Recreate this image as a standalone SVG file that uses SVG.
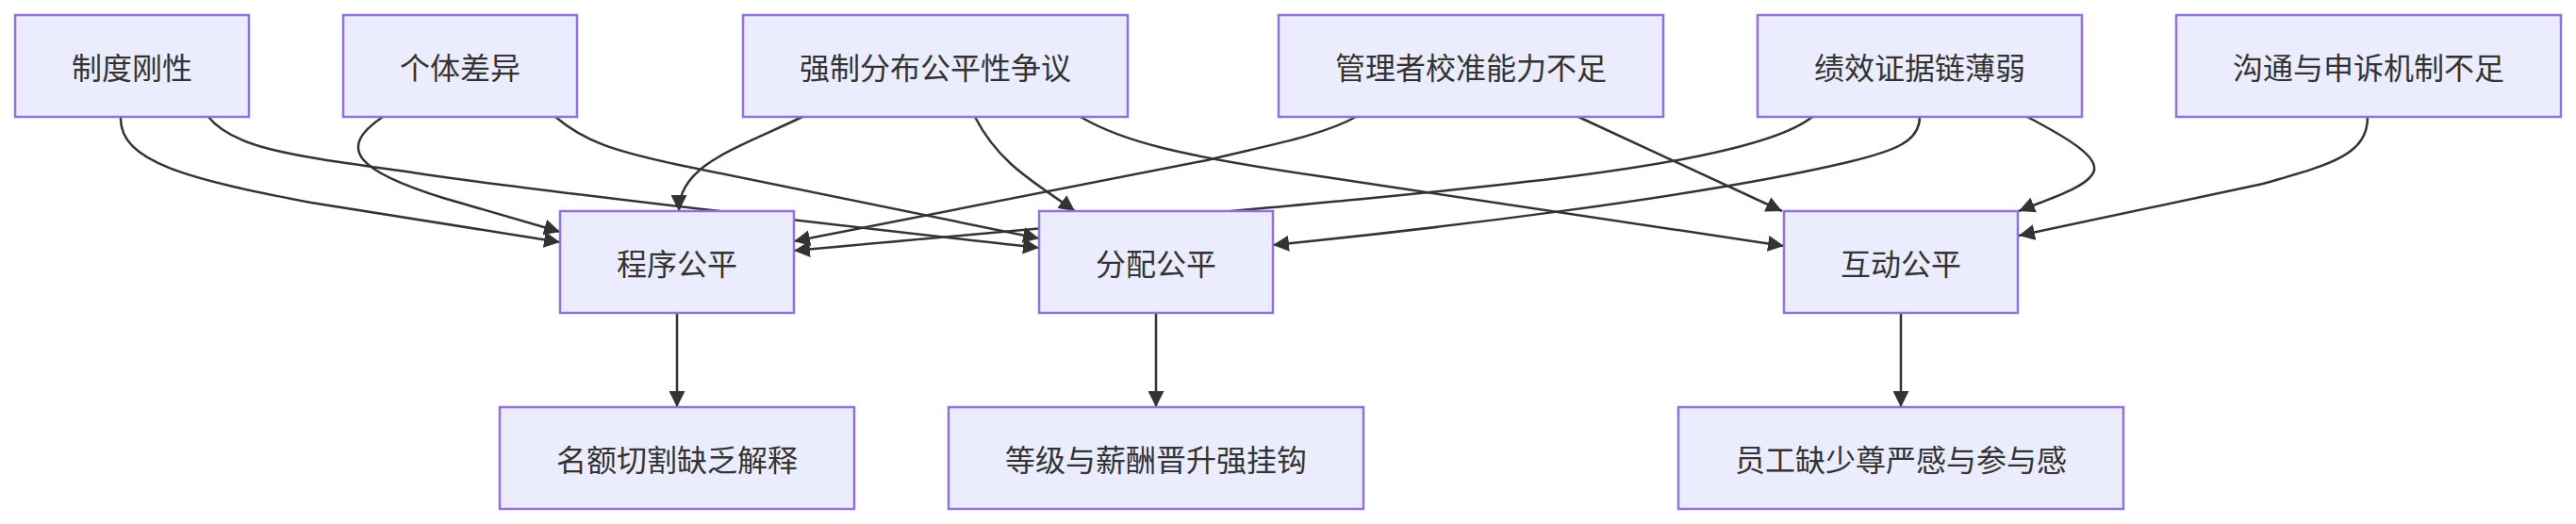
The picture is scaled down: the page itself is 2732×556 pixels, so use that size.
<svg xmlns="http://www.w3.org/2000/svg" width="2732" height="556" viewBox="0 0 2732 556">
<style>
.node rect{fill:#ECECFF;stroke:#9370DB;stroke-width:2.5}
.node text{font-family:"Noto Sans CJK SC","Liberation Sans",sans-serif;font-size:32px;fill:#333;text-anchor:middle;dominant-baseline:central}
.edge{fill:none;stroke:#333;stroke-width:2.5;marker-end:url(#arrow)}
</style>
<defs>
<marker id="arrow" viewBox="0 0 10 10" refX="10" refY="5" markerUnits="userSpaceOnUse" markerWidth="17" markerHeight="17" orient="auto">
<path d="M0,0 L10,5 L0,10 z" fill="#333"/>
</marker>
</defs>
<rect width="2732" height="556" fill="#fff"/>
<g id="connectors">
<path class="edge" d="M128,124 C126,172 200,190 330,215 L594,257"/>
<path class="edge" d="M221,124 C250,160 320,166 450,185 S900,240 1102,263"/>
<path class="edge" d="M406,124 C355,158 380,182 470,210 L594,246"/>
<path class="edge" d="M589,124 C620,150 650,160 720,175 L1102,253"/>
<path class="edge" d="M851,124 C780,158 720,175 720,224"/>
<path class="edge" d="M1034,124 C1060,175 1100,195 1140,224"/>
<path class="edge" d="M1146,124 C1190,150 1250,165 1400,187 L1892,261"/>
<path class="edge" d="M1438,124 C1400,145 1340,155 1280,170 L842,256"/>
<path class="edge" d="M1674,124 L1890,224"/>
<path class="edge" d="M1922,124 C1890,150 1800,170 1668,187 C1500,208 1300,224 842,266"/>
<path class="edge" d="M2036,124 C2036,150 2010,160 1960,172 C1800,210 1500,245 1350,260"/>
<path class="edge" d="M2150,124 C2200,150 2230,170 2219,185 C2210,200 2170,212 2141,224"/>
<path class="edge" d="M2511,124 C2511,165 2470,175 2400,195 L2141,250"/>
<path class="edge" d="M718,332 L718,432"/>
<path class="edge" d="M1226,332 L1226,432"/>
<path class="edge" d="M2016,332 L2016,432"/>
</g>
<g id="n-zhidu" class="node"><rect x="16" y="16" width="248" height="108"/><text x="140" y="70">制度刚性</text></g>
<g id="n-geti" class="node"><rect x="364" y="16" width="248" height="108"/><text x="488" y="70">个体差异</text></g>
<g id="n-qiangzhi" class="node"><rect x="788" y="16" width="408" height="108"/><text x="992" y="70">强制分布公平性争议</text></g>
<g id="n-guanli" class="node"><rect x="1356" y="16" width="408" height="108"/><text x="1560" y="70">管理者校准能力不足</text></g>
<g id="n-jixiao" class="node"><rect x="1864" y="16" width="344" height="108"/><text x="2036" y="70">绩效证据链薄弱</text></g>
<g id="n-goutong" class="node"><rect x="2308" y="16" width="408" height="108"/><text x="2512" y="70">沟通与申诉机制不足</text></g>
<g id="n-chengxu" class="node"><rect x="594" y="224" width="248" height="108"/><text x="718" y="278">程序公平</text></g>
<g id="n-fenpei" class="node"><rect x="1102" y="224" width="248" height="108"/><text x="1226" y="278">分配公平</text></g>
<g id="n-hudong" class="node"><rect x="1892" y="224" width="248" height="108"/><text x="2016" y="278">互动公平</text></g>
<g id="n-ming" class="node"><rect x="530" y="432" width="376" height="108"/><text x="718" y="486">名额切割缺乏解释</text></g>
<g id="n-dengji" class="node"><rect x="1006" y="432" width="440" height="108"/><text x="1226" y="486">等级与薪酬晋升强挂钩</text></g>
<g id="n-yuangong" class="node"><rect x="1780" y="432" width="472" height="108"/><text x="2016" y="486">员工缺少尊严感与参与感</text></g>
</svg>
